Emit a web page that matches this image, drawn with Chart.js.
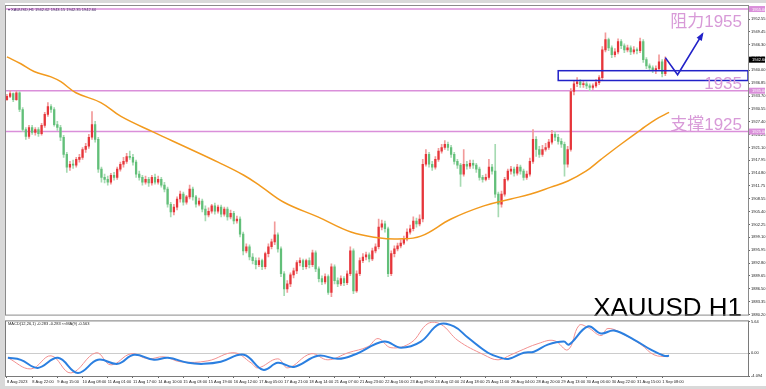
<!DOCTYPE html>
<html><head><meta charset="utf-8">
<script src="https://cdn.jsdelivr.net/npm/chart.js@4.4.1/dist/chart.umd.min.js"></script>
<style>
html,body{margin:0;padding:0;width:766px;height:389px;overflow:hidden;background:#d9d9d9;font-family:"Liberation Sans",Arial,sans-serif}
#panel{position:absolute;left:5px;top:3px;width:761px;height:383px;background:#fff}
canvas{position:absolute;left:0}
#c1{top:0}
#c2{top:318px}
.tiny{position:absolute;font-size:4px;line-height:5px;color:#402860;white-space:nowrap}
</style></head><body>
<div id="panel"></div>
<canvas id="c1" width="766" height="318"></canvas>
<canvas id="c2" width="766" height="68"></canvas>
<div class="tiny" style="left:8px;top:7px">▾ XAUUSD,H1 1942.62 1943.15 1942.35 1942.60</div>
<div class="tiny" style="left:8px;top:321px;color:#222">MACD(12,26,1) -0.283 -0.283 ≈≈MA(9) -0.563</div>
<script>
const dateLabels = ['8 Aug 2023','8 Aug 22:00','9 Aug 15:00','10 Aug 08:00','11 Aug 01:00','11 Aug 17:00','14 Aug 10:00','15 Aug 03:00','15 Aug 19:00','16 Aug 12:00','17 Aug 05:00','17 Aug 21:00','18 Aug 14:00','21 Aug 07:00','21 Aug 23:00','22 Aug 16:00','23 Aug 09:00','24 Aug 02:00','24 Aug 18:00','25 Aug 11:00','28 Aug 04:00','28 Aug 20:00','29 Aug 13:00','30 Aug 06:00','30 Aug 22:00','31 Aug 15:00','1 Sep 08:00'];
const yTickLabels = ['1952.55','1949.45','1946.30','1943.15','1940.00','1936.85','1933.70','1930.55','1927.40','1924.25','1921.10','1917.95','1914.80','1911.75','1908.55','1905.40','1902.25','1899.10','1895.95','1892.80','1889.65','1886.50','1883.35','1880.20'];
const macdTickLabels = ['-4.094','0.00','5.64'];

const firstOpen = 1932.8;
const closes = [1933.6,1934.3,1932.8,1934.5,1930.4,1925.5,1923.8,1926.0,1924.8,1925.5,
1924.5,1926.5,1929.2,1931.1,1930.4,1926.7,1926.0,1923.6,1919.4,1916.3,
1917.0,1916.8,1918.2,1918.7,1920.6,1921.4,1923.6,1926.7,1923.1,1915.8,
1913.8,1913.3,1912.6,1914.3,1913.8,1915.8,1917.0,1917.7,1918.9,1918.7,
1917.5,1914.6,1913.8,1912.6,1913.3,1912.4,1913.8,1912.6,1913.3,1911.9,
1910.9,1907.2,1905.3,1906.5,1908.5,1909.7,1907.7,1909.0,1910.9,1909.0,
1907.2,1908.0,1906.0,1904.6,1905.5,1906.8,1905.5,1906.5,1904.8,1906.0,
1904.1,1905.0,1903.1,1903.6,1899.9,1895.8,1896.8,1894.3,1893.4,1892.4,
1893.4,1891.9,1895.1,1896.8,1898.0,1899.7,1896.3,1890.2,1886.5,1887.7,
1889.9,1890.9,1892.9,1893.4,1891.9,1893.4,1892.4,1895.3,1891.4,1889.0,
1888.2,1889.5,1885.6,1891.9,1888.5,1887.7,1889.0,1888.0,1890.2,1895.8,
1886.0,1890.2,1893.4,1894.3,1894.8,1893.8,1895.8,1896.8,1901.6,1902.4,
1901.2,1890.2,1895.1,1896.3,1897.0,1897.7,1898.7,1900.4,1901.2,1903.1,
1902.4,1903.6,1917.0,1919.4,1917.0,1916.3,1918.2,1920.2,1921.1,1921.9,
1921.1,1919.4,1917.7,1916.8,1914.6,1917.0,1916.5,1917.2,1916.8,1915.8,
1913.8,1913.3,1913.8,1916.3,1915.3,1909.7,1907.2,1909.7,1913.3,1915.3,
1915.8,1914.8,1916.3,1915.3,1913.8,1914.6,1917.7,1923.1,1920.6,1919.4,
1920.6,1921.1,1922.4,1924.3,1923.6,1922.6,1921.9,1917.0,1920.6,1934.8,
1936.7,1937.2,1936.5,1936.7,1936.2,1935.8,1936.2,1937.0,1938.2,1945.0,
1947.5,1945.5,1943.8,1944.5,1947.0,1946.0,1945.0,1945.5,1944.5,1945.0,
1944.8,1947.0,1942.6,1941.1,1940.6,1940.1,1940.4,1942.1,1939.2,1942.6];
const highs = [1934.1,1935.0,1934.5,1935.0,1934.8,1930.9,1926.0,1926.5,1926.5,1926.0,
1926.0,1927.0,1929.7,1932.1,1931.6,1930.9,1927.5,1926.5,1924.1,1919.9,
1917.7,1918.0,1918.7,1919.4,1921.1,1922.1,1924.3,1929.9,1927.5,1923.6,
1916.3,1914.6,1914.1,1914.8,1915.0,1916.3,1917.5,1918.7,1919.7,1920.2,
1919.4,1918.0,1915.3,1914.3,1914.1,1913.8,1914.3,1914.6,1914.1,1913.8,
1912.6,1911.4,1907.7,1907.2,1909.0,1910.4,1910.2,1909.4,1911.9,1911.4,
1909.4,1908.7,1908.5,1906.8,1906.3,1907.2,1907.5,1907.0,1907.0,1906.5,
1906.5,1905.8,1905.5,1904.3,1904.1,1900.4,1897.5,1897.3,1895.1,1894.1,
1894.1,1893.8,1895.5,1897.5,1898.7,1902.9,1900.2,1896.8,1890.7,1888.5,
1890.4,1891.6,1893.4,1894.1,1893.8,1893.8,1894.1,1896.0,1895.8,1891.9,
1889.7,1890.2,1889.9,1892.6,1892.4,1889.2,1889.7,1889.5,1890.9,1896.8,
1896.3,1890.9,1894.1,1895.1,1895.5,1895.3,1896.5,1897.5,1903.6,1903.3,
1903.1,1901.6,1895.8,1897.0,1897.7,1898.5,1899.4,1901.2,1902.1,1904.1,
1903.8,1904.6,1918.2,1920.6,1919.9,1917.7,1918.9,1920.9,1921.9,1922.8,
1922.4,1921.6,1919.9,1918.2,1917.2,1920.6,1917.7,1918.0,1918.0,1917.2,
1916.3,1914.3,1914.6,1918.2,1917.0,1921.9,1910.2,1910.4,1913.8,1915.8,
1916.5,1916.3,1917.0,1916.8,1915.8,1915.3,1918.5,1925.5,1923.8,1921.4,
1921.6,1922.1,1923.1,1925.3,1925.0,1924.3,1923.3,1922.4,1921.4,1935.5,
1937.5,1938.2,1937.7,1937.5,1937.2,1936.7,1936.7,1937.7,1938.7,1945.8,
1949.2,1947.9,1946.0,1945.3,1947.7,1947.5,1946.5,1946.2,1946.0,1945.8,
1945.5,1947.9,1947.5,1943.1,1941.6,1941.1,1941.1,1943.8,1942.6,1943.3];
const lows = [1932.6,1933.3,1932.3,1932.6,1929.9,1925.0,1923.1,1923.3,1924.3,1924.1,
1923.8,1924.1,1926.0,1928.7,1929.7,1926.3,1925.3,1922.8,1918.7,1915.0,
1915.5,1916.0,1916.3,1917.5,1918.2,1919.9,1920.9,1923.1,1922.4,1915.0,
1912.6,1912.4,1911.9,1912.1,1913.1,1913.3,1915.3,1916.3,1917.2,1918.2,
1916.8,1913.8,1913.1,1911.9,1912.1,1911.6,1911.9,1912.1,1912.1,1911.4,
1910.2,1906.5,1904.1,1904.6,1905.8,1907.7,1907.0,1907.2,1908.5,1908.2,
1906.5,1906.8,1905.3,1903.1,1904.1,1905.0,1904.8,1905.0,1904.1,1904.3,
1903.3,1903.6,1902.4,1902.6,1899.2,1894.8,1895.3,1893.6,1892.6,1891.4,
1891.9,1891.2,1891.4,1894.3,1896.3,1897.3,1895.5,1889.5,1884.8,1885.6,
1887.0,1889.2,1890.2,1892.1,1891.2,1891.4,1891.6,1891.9,1890.7,1888.2,
1887.5,1887.7,1885.1,1884.6,1887.7,1887.0,1887.3,1887.3,1887.5,1889.7,
1885.3,1885.6,1889.7,1892.9,1893.6,1893.1,1893.4,1895.3,1896.3,1900.9,
1900.4,1889.5,1889.7,1894.3,1895.8,1896.5,1897.3,1898.2,1899.9,1900.7,
1901.6,1901.9,1902.9,1916.5,1916.3,1915.5,1915.8,1917.7,1919.7,1920.6,
1920.4,1918.7,1917.0,1916.0,1911.6,1914.1,1915.8,1916.0,1916.0,1915.0,
1913.1,1912.6,1912.9,1913.3,1914.6,1908.9,1904.1,1906.5,1909.2,1912.9,
1914.6,1914.1,1914.3,1914.6,1913.1,1913.3,1914.1,1917.2,1918.9,1918.7,
1918.9,1920.2,1920.6,1921.9,1922.8,1921.9,1921.1,1914.1,1916.3,1920.2,
1934.0,1936.0,1935.8,1935.8,1935.5,1935.0,1935.3,1935.8,1936.5,1937.7,
1944.5,1944.8,1943.1,1943.3,1944.0,1945.3,1944.3,1944.5,1943.8,1944.0,
1944.0,1944.3,1941.9,1940.4,1939.9,1939.4,1939.2,1939.9,1938.4,1938.7];

const maIdx = [0,4.4,8.6,14.0,17.1,21.9,29.8,36.2,46.7,56.2,67.0,75.2,80.6,87.9,98.7,109.2,117.8,124.1,131.4,141.0,151.4,160.0,166.3,172.7,178.1,183.8,188.6,194.9,201.3,206.0,210.2];
const maVal = [1943.3,1941.6,1939.7,1938.4,1937.2,1934.5,1932.1,1928.7,1924.8,1921.4,1917.5,1914.3,1911.6,1907.7,1904.1,1900.4,1899.0,1898.7,1899.4,1903.6,1906.8,1908.5,1909.7,1911.4,1912.9,1915.3,1918.2,1921.9,1925.5,1928.0,1929.7];

const sigIdx = [0.3,4.4,9.8,16.2,22.5,28.9,35.2,40.3,46.7,51.1,57.5,62.5,67.9,75.2,81.3,86.0,91.1,98.7,105.1,110.2,119.7,125.1,131.4,137.1,141.9,146.3,152.7,156.8,159.4,164.1,167.3,171.7,176.8,178.4,184.4,188.6,192.7,199.0,204.4,208.6,210.2];
const sigVal = [-0.85,-1.21,-2.65,-0.85,-3.55,-1.21,-1.93,-0.31,-1.21,-0.85,-1.75,-1.93,-1.57,-0.31,-2.99,-1.75,-2.47,-0.49,-1.03,-0.31,2.04,0.95,2.04,5.10,4.74,2.76,0.05,-0.85,-1.03,0.05,0.23,1.50,2.04,1.50,4.74,3.48,4.02,2.40,0.59,-0.49,-0.49];
const macdIdx = [0.3,7.6,14.0,20.3,28.3,33.0,39.4,44.8,49.8,55.2,63.8,72.1,77.5,79.7,86.0,89.2,96.5,101.9,108.3,114.6,117.8,121.9,128.3,133.7,137.8,143.2,151.4,155.9,160.0,162.2,168.6,173.7,178.1,181.6,184.4,188.6,190.8,195.9,201.3,205.4,209.8];
const macdVal = [-0.85,-2.83,-0.49,-3.55,0.05,-2.11,-0.13,-1.03,-0.67,-1.57,-1.39,0.05,-1.75,-2.65,-1.03,-2.65,-0.13,-1.21,0.05,1.14,2.58,0.95,1.86,5.28,5.10,2.22,-0.31,-1.21,-0.31,0.23,1.68,2.22,0.59,4.92,4.56,3.12,4.38,3.30,1.50,-0.31,-0.67];

const levelVals = [1955, 1935, 1925];
const levelText = ['阻力1955', '1935', '支撑1925'];
const levelTextOffset = [18, -2, -2];
const zoneStart = 175, zoneHi = 1939.9, zoneLo = 1937.5;
const arrowIdx = [209, 212.9, 220.8];
const arrowVal = [1943.1, 1938.9, 1948.9];

const opens = closes.map((c, i) => i === 0 ? firstOpen : closes[i - 1]);
const X_MIN = -0.3, X_MAX = 235.25;
const UP = '#e6353a', DN = '#62bf79', UPW = '#f29a9a', DNW = '#a6dab2';
const PINK = '#da8fda', BLUE = '#2222c8';
const isUp = i => closes[i] >= opens[i];
const tinyFont = {size: 4, family: '"Liberation Sans",Arial,sans-serif'};

const mainPlugin = {
  id: 'mainDeco',
  beforeDatasetsDraw(chart) {
    const {ctx, chartArea: a, scales: {y}} = chart;
    ctx.save();
    ctx.strokeStyle = PINK; ctx.lineWidth = 1.6;
    levelVals.forEach(v => {
      const py = y.getPixelForValue(v);
      ctx.beginPath(); ctx.moveTo(a.left, py); ctx.lineTo(a.right, py); ctx.stroke();
    });
    ctx.restore();
  },
  afterDatasetsDraw(chart) {
    const {ctx, chartArea: a, scales: {x, y}} = chart;
    ctx.save();
    ctx.strokeStyle = BLUE; ctx.lineWidth = 1.5;
    const zx = x.getPixelForValue(zoneStart), zt = y.getPixelForValue(zoneHi), zb = y.getPixelForValue(zoneLo);
    ctx.strokeRect(zx, zt, a.right - zx, zb - zt);
    const pts = arrowIdx.map((v, i) => [x.getPixelForValue(v), y.getPixelForValue(arrowVal[i])]);
    ctx.lineWidth = 1.6;
    ctx.beginPath();
    pts.forEach((p, i) => i ? ctx.lineTo(p[0], p[1]) : ctx.moveTo(p[0], p[1]));
    ctx.stroke();
    const p1 = pts[pts.length - 2], p2 = pts[pts.length - 1];
    const ang = Math.atan2(p2[1] - p1[1], p2[0] - p1[0]);
    ctx.fillStyle = BLUE;
    ctx.beginPath();
    ctx.moveTo(p2[0] + Math.cos(ang) * 2, p2[1] + Math.sin(ang) * 2);
    ctx.lineTo(p2[0] - Math.cos(ang - 0.45) * 7, p2[1] - Math.sin(ang - 0.45) * 7);
    ctx.lineTo(p2[0] - Math.cos(ang + 0.45) * 7, p2[1] - Math.sin(ang + 0.45) * 7);
    ctx.closePath(); ctx.fill();
    ctx.fillStyle = '#d89ad8';
    ctx.font = '17px "Liberation Sans","Noto Sans CJK SC",sans-serif';
    ctx.textAlign = 'right'; ctx.textBaseline = 'alphabetic';
    levelVals.forEach((v, i) => ctx.fillText(levelText[i], a.right - 6, y.getPixelForValue(v) + levelTextOffset[i]));
    ctx.fillStyle = '#000';
    ctx.font = '26px "Liberation Sans",Arial,sans-serif';
    ctx.fillText('XAUUSD H1', a.right - 6, a.bottom + 1);
    ctx.restore();
  },
  afterDraw(chart) {
    const {ctx, chartArea: a, scales: {y}} = chart;
    ctx.save();
    ctx.strokeStyle = '#8a8a8a'; ctx.lineWidth = 1;
    ctx.strokeRect(a.left - 0.5, a.top - 0.5, a.right - a.left + 1, a.bottom - a.top + 1);
    ctx.font = '4px "Liberation Sans",sans-serif';
    ctx.textBaseline = 'middle'; ctx.textAlign = 'left';
    const box = (v, bg, fg) => {
      const py = y.getPixelForValue(v);
      ctx.fillStyle = bg; ctx.fillRect(a.right + 1, py - 3, 766 - a.right - 2, 6);
      ctx.fillStyle = fg; ctx.fillText(v.toFixed(2), a.right + 4, py + 0.5);
    };
    levelVals.forEach(v => box(v, PINK, '#fff'));
    box(closes[closes.length - 1], '#000', '#fff');
    ctx.restore();
  }
};

new Chart(document.getElementById('c1'), {
  type: 'bar',
  data: {datasets: [
    {type: 'line', data: maIdx.map((v, i) => ({x: v, y: maVal[i]})), borderColor: '#f29a1e', borderWidth: 1.5, pointRadius: 0, tension: 0.4, order: 0},
    {type: 'bar', data: closes.map((c, i) => ({x: i, y: [lows[i], highs[i]]})), backgroundColor: ctx => isUp(ctx.dataIndex) ? UPW : DNW, barThickness: 1, grouped: false, order: 2},
    {type: 'bar', data: closes.map((c, i) => ({x: i, y: [opens[i], c]})), backgroundColor: ctx => isUp(ctx.dataIndex) ? UP : DN, barThickness: 1.6, minBarLength: 1, grouped: false, order: 1}
  ]},
  options: {
    responsive: false, animation: false, devicePixelRatio: 1,
    layout: {padding: {left: 6, top: 6, right: 0, bottom: 2}},
    plugins: {legend: {display: false}, tooltip: {enabled: false}},
    scales: {
      x: {type: 'linear', min: X_MIN, max: X_MAX, offset: false, display: false},
      y: {position: 'right', min: 1880.19, max: 1955.74, beginAtZero: false,
        afterBuildTicks: s => { s.ticks = yTickLabels.map(t => ({value: parseFloat(t)})).sort((p, q) => p.value - q.value); },
        afterFit: s => { s.width = 18; },
        ticks: {font: tinyFont, color: '#222', padding: 1, autoSkip: false, callback: v => yTickLabels.find(t => parseFloat(t) === v)},
        grid: {drawOnChartArea: false, tickLength: 2, color: '#666'},
        border: {display: true, color: '#666'}
      }
    }
  },
  plugins: [mainPlugin]
});

const macdPlugin = {
  id: 'macdDeco',
  beforeDatasetsDraw(chart) {
    const {ctx, chartArea: a, scales: {y}} = chart;
    ctx.save();
    ctx.strokeStyle = '#cccccc'; ctx.lineWidth = 1;
    const py = Math.round(y.getPixelForValue(0)) + 0.5;
    ctx.beginPath(); ctx.moveTo(a.left, py); ctx.lineTo(a.right, py); ctx.stroke();
    ctx.restore();
  },
  afterDraw(chart) {
    const {ctx, chartArea: a} = chart;
    ctx.save();
    ctx.strokeStyle = '#7a7a7a'; ctx.lineWidth = 1;
    ctx.strokeRect(a.left - 0.5, a.top - 0.5, a.right - a.left + 1, a.bottom - a.top + 1);
    ctx.restore();
  }
};

new Chart(document.getElementById('c2'), {
  type: 'line',
  data: {datasets: [
    {data: sigIdx.map((v, i) => ({x: v, y: sigVal[i]})), borderColor: '#2b7fe0', borderWidth: 2, pointRadius: 0, tension: 0.4, order: 0},
    {data: macdIdx.map((v, i) => ({x: v, y: macdVal[i]})), borderColor: '#f29090', borderWidth: 1, pointRadius: 0, tension: 0.4, order: 1}
  ]},
  options: {
    responsive: false, animation: false, devicePixelRatio: 1,
    layout: {padding: {left: 6, top: 2, right: 0, bottom: 0}},
    plugins: {legend: {display: false}, tooltip: {enabled: false}},
    scales: {
      x: {type: 'linear', min: X_MIN, max: X_MAX, offset: false,
        afterBuildTicks: s => { s.ticks = dateLabels.map((_, k) => ({value: k * 8})); },
        afterFit: s => { s.height = 10; },
        ticks: {font: tinyFont, color: '#222', align: 'start', maxRotation: 0, minRotation: 0, autoSkip: false, padding: 1, callback: (v, i) => dateLabels[i]},
        grid: {drawOnChartArea: false, tickLength: 2, color: '#666'},
        border: {display: true, color: '#666'}
      },
      y: {position: 'right', min: -4.094, max: 5.64,
        afterBuildTicks: s => { s.ticks = macdTickLabels.map(t => ({value: parseFloat(t)})); },
        afterFit: s => { s.width = 18; },
        ticks: {font: tinyFont, color: '#222', padding: 1, autoSkip: false, callback: v => macdTickLabels.find(t => parseFloat(t) === v)},
        grid: {drawOnChartArea: false, tickLength: 2, color: '#666'},
        border: {display: true, color: '#666'}
      }
    }
  },
  plugins: [macdPlugin]
});
</script>
</body></html>
